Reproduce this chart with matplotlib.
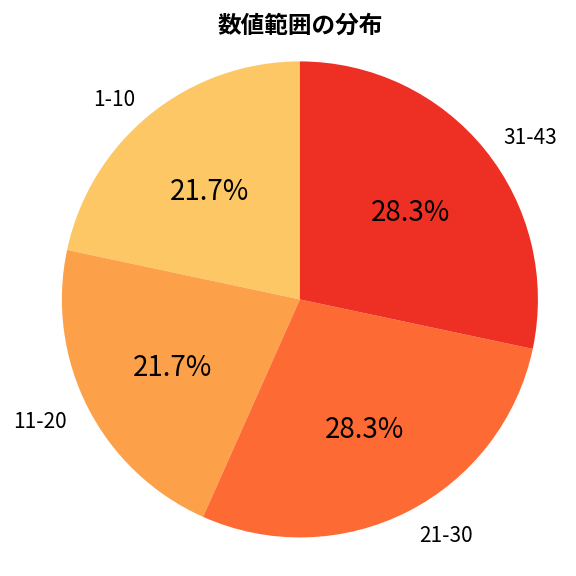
import matplotlib
matplotlib.use('Agg')
import matplotlib.pyplot as plt

plt.rcParams['font.family'] = ['Noto Sans CJK JP', 'DejaVu Sans']

#
# data
labels = ['1-10', '11-20', '21-30', '31-43']
counts = [13, 13, 17, 17]
colors = ['#FDC765', '#FCA149', '#FD6A33', '#EE3024']

#
# pie chart
fig = plt.figure(figsize=(5.76, 5.76), dpi=100)
ax = fig.add_axes([0, 0, 1, 1])
wedges, texts, autotexts = ax.pie(counts, labels=labels, colors=colors,
                                  autopct='%1.1f%%', startangle=90,
                                  labeldistance=1.1, pctdistance=0.6,
                                  textprops={'fontsize': 15})
for t in autotexts:
    t.set_fontsize(20)
    x, y = t.get_position()
    t.set_position((x, y - 0.015))
for t in texts:
    x, y = t.get_position()
    t.set_position((x, y - 0.015))
ax.set_aspect('equal')
ax.set_xlim(-1.26, 1.16)
ax.set_ylim(-1.162, 1.258)
fig.text(0.521, 0.956, '数値範囲の分布', fontsize=17, fontweight='bold', ha='center', va='center')

fig.savefig('out.png')
plt.close()
